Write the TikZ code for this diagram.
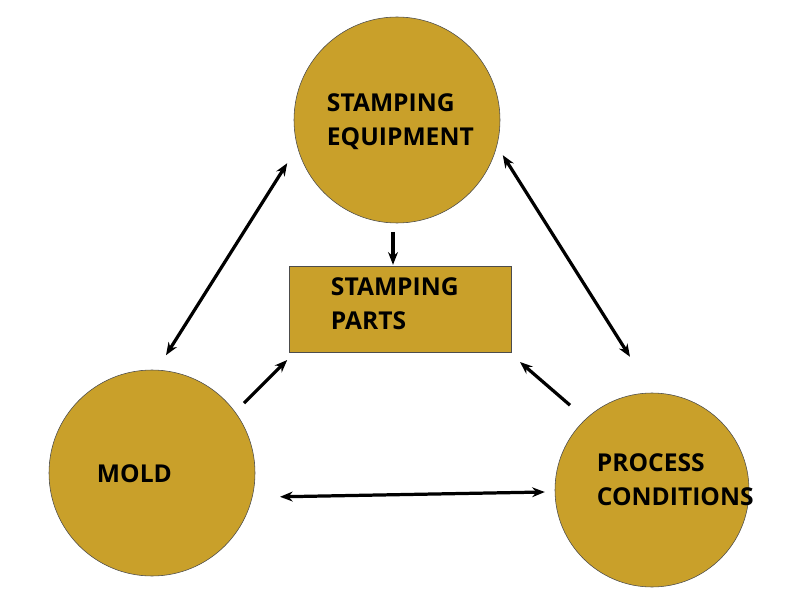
\documentclass[tikz,border=0pt]{standalone}
\usepackage{fontspec}
\setmainfont{Open Sans}
\usetikzlibrary{arrows.meta,positioning}
\definecolor{gold}{HTML}{C9A02A}
\tikzset{
  ball/.style={circle,draw=black!70,fill=gold,thin},
  label/.style={font=\fontsize{17.5}{24}\selectfont\bfseries,align=left,anchor=west},
  link/.style={line width=2.3pt,-{Stealth[length=9pt,width=7pt]}},
  dlink/.style={line width=2.3pt,{Stealth[length=9pt,width=7pt]}-{Stealth[length=9pt,width=7pt]}}
}
\begin{document}
\begin{tikzpicture}
\useasboundingbox (0,0) rectangle (20,15);
\node[ball,minimum size=5.15cm] (equip) at (9.925,12.0) {};
\node[ball,minimum size=5.15cm] (mold) at (3.8,3.175) {};
\node[ball,minimum size=4.85cm] (proc) at (16.3,2.75) {};
\node[draw=black!70,thin,fill=gold,minimum width=5.55cm,minimum height=2.15cm] (parts) at (10.0,7.275) {};

\node[label] (equiptxt) at (8.05,11.95) {STAMPING\\EQUIPMENT};
\node[label] (moldtxt) at (2.3,3.15) {MOLD};
\node[label] (proctxt) at (14.8,3.0) {PROCESS\\CONDITIONS};
\node[label] (partstxt) at (8.15,7.4) {STAMPING\\PARTS};

% arrow ends
\coordinate (a1) at (9.825,9.2);
\coordinate (a2) at (9.825,8.38);
\coordinate (b1) at (4.15,6.12);
\coordinate (b2) at (7.18,10.92);
\coordinate (c1) at (12.57,11.12);
\coordinate (c2) at (15.75,6.08);
\coordinate (d1) at (6.1,4.92);
\coordinate (d2) at (7.18,6.0);
\coordinate (e1) at (14.25,4.87);
\coordinate (e2) at (13.0,5.95);
\coordinate (f1) at (7.0,2.58);
\coordinate (f2) at (13.62,2.7);

\draw[link] (a1) -- (a2);
\draw[dlink] (b1) -- (b2);
\draw[dlink] (c1) -- (c2);
\draw[link] (d1) -- (d2);
\draw[link] (e1) -- (e2);
\draw[dlink] (f1) -- (f2);
\end{tikzpicture}
\end{document}
